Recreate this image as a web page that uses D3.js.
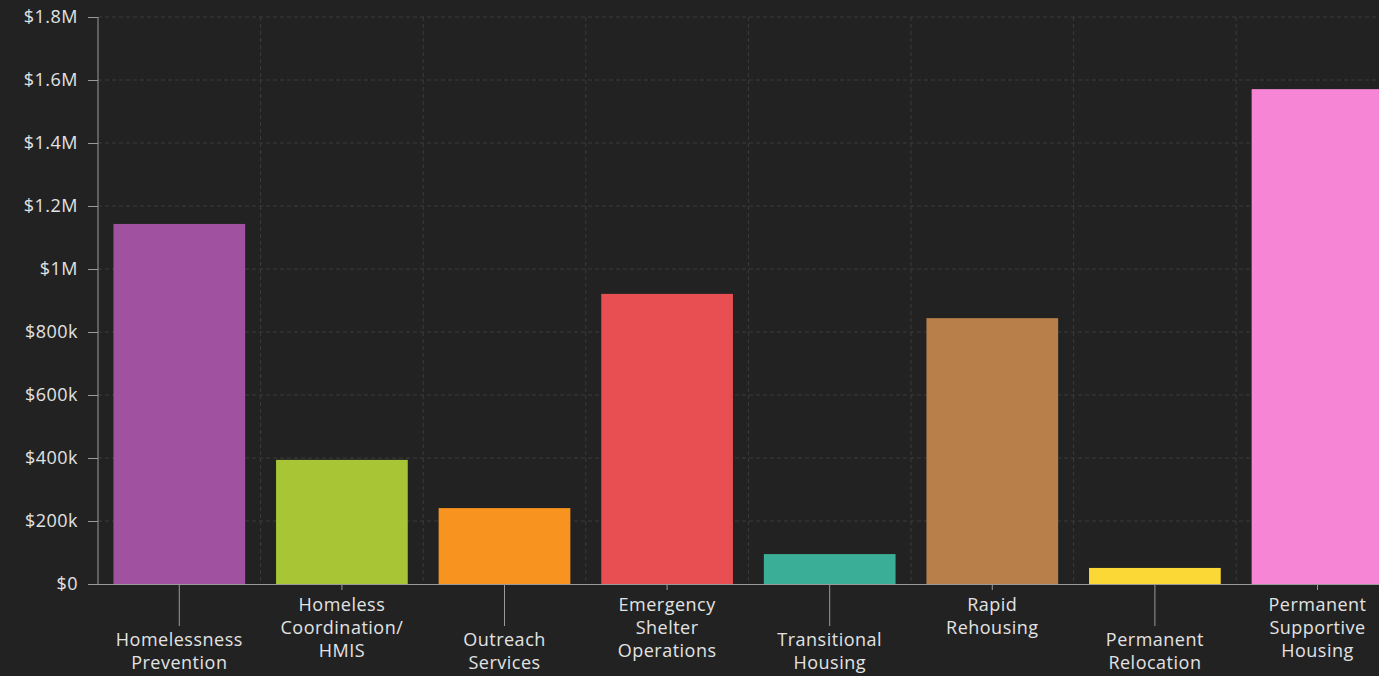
<!DOCTYPE html>
<html>
<head>
<meta charset="utf-8">
<script src="https://cdn.jsdelivr.net/npm/d3@7"></script>
<style>
  html, body { margin: 0; padding: 0; background: #222222; overflow: hidden; }
  svg { display: block; }
  .axis text { font-family: "Open Sans", Lato, sans-serif; font-size: 18px; letter-spacing: 0.5px; fill: #e2e2e2; }
  .axis path, .axis line { stroke: #9a9a9a; }
  .grid line { stroke: #3b3b3b; stroke-dasharray: 4 3; }
</style>
</head>
<body>
<div id="chart"></div>
<script>
// categories (line breaks as in the picture)
const categories = [
  ['Homelessness', 'Prevention'],
  ['Homeless', 'Coordination/', 'HMIS'],
  ['Outreach', 'Services'],
  ['Emergency', 'Shelter', 'Operations'],
  ['Transitional', 'Housing'],
  ['Rapid', 'Rehousing'],
  ['Permanent', 'Relocation'],
  ['Permanent', 'Supportive', 'Housing']
];
const values = [1143000, 394000, 241000, 921000, 95000, 844000, 51000, 1571000];
const colors = ['#a052a0', '#a8c536', '#f7931e', '#e84f52', '#3aae96', '#b87f4a', '#fcd837', '#f785d6'];
const yTicks = [0, 200000, 400000, 600000, 800000, 1000000, 1200000, 1400000, 1600000, 1800000];
const yTickLabels = ['$0', '$200k', '$400k', '$600k', '$800k', '$1M', '$1.2M', '$1.4M', '$1.6M', '$1.8M'];

const width = 1379, height = 676;
const plotLeft = 98, plotTop = 17, plotBottom = 584;
const bandStep = 162.6;

const svg = d3.select('#chart').append('svg')
  .attr('width', width)
  .attr('height', height);

const keys = categories.map(c => c.join(' '));

const x = d3.scaleBand()
  .domain(keys)
  .range([plotLeft, plotLeft + bandStep * keys.length])
  .paddingInner(0.19)
  .paddingOuter(0.095);

const y = d3.scaleLinear()
  .domain([0, 1800000])
  .range([plotBottom, plotTop]);

// horizontal grid
svg.append('g').attr('class', 'grid')
  .selectAll('line')
  .data(yTicks.slice(1))
  .enter().append('line')
  .attr('x1', plotLeft).attr('x2', width)
  .attr('y1', d => y(d)).attr('y2', d => y(d));

// vertical grid at band boundaries
svg.append('g').attr('class', 'grid')
  .selectAll('line')
  .data(d3.range(1, keys.length))
  .enter().append('line')
  .attr('x1', i => plotLeft + i * bandStep).attr('x2', i => plotLeft + i * bandStep)
  .attr('y1', plotTop).attr('y2', plotBottom);

// bars
svg.append('g')
  .selectAll('rect')
  .data(values)
  .enter().append('rect')
  .attr('x', (d, i) => x(keys[i]))
  .attr('width', x.bandwidth())
  .attr('y', d => y(d))
  .attr('height', d => plotBottom - y(d))
  .attr('fill', (d, i) => colors[i]);

// y axis
const yAxis = svg.append('g')
  .attr('class', 'axis')
  .attr('transform', `translate(${plotLeft},0)`)
  .call(d3.axisLeft(y)
    .tickValues(yTicks)
    .tickFormat((d, i) => yTickLabels[i])
    .tickSize(10)
    .tickSizeOuter(0)
    .tickPadding(10));
yAxis.select('.domain').remove();
yAxis.append('line')
  .attr('x1', 0).attr('x2', 0)
  .attr('y1', plotTop).attr('y2', plotBottom)
  .attr('stroke', '#9a9a9a');

// x axis
const xAxis = svg.append('g')
  .attr('class', 'axis')
  .attr('transform', `translate(0,${plotBottom})`)
  .call(d3.axisBottom(x).tickSizeOuter(0).tickFormat(''));
xAxis.select('.domain').attr('d', `M${plotLeft - 10},0.5H${width}`);

// staggered ticks and labels
const lowTick = 42, highTick = 6;
xAxis.selectAll('.tick').each(function (d, i) {
  const g = d3.select(this);
  const low = i % 2 === 0;
  g.select('line').attr('y2', low ? lowTick : highTick);
  const lines = categories[i];
  const startY = low ? 56 : 21;
  const t = g.select('text')
    .attr('y', 0)
    .attr('dy', null)
    .attr('text-anchor', 'middle');
  lines.forEach((ln, k) => {
    t.append('tspan')
      .attr('x', 0)
      .attr('y', startY + k * 23)
      .attr('dy', '0.35em')
      .text(ln);
  });
});
</script>
</body>
</html>
